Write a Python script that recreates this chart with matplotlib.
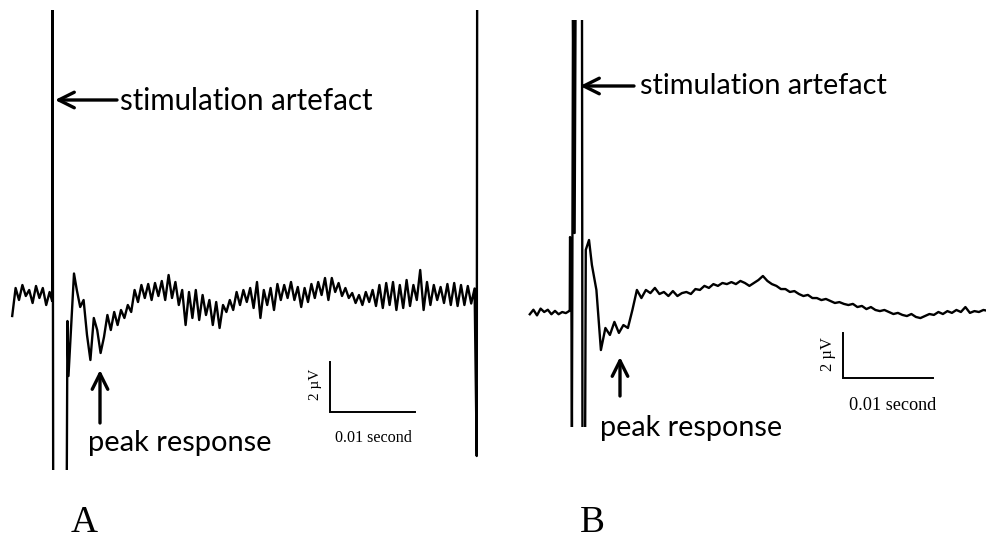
import numpy as np
import matplotlib
matplotlib.use("Agg")
import matplotlib.pyplot as plt

# ---------------- data (time in ms, amplitude in µV) ----------------
# Panel A : noisy recording
A_PRE_T0, A_PRE_DT = -4.8, 0.4
A_PRE = [-0.8, 0.32, -0.16, 0.44, 0.0, 0.24, -0.28, 0.4, -0.08, 0.32, -0.36, 0.16]
A_ART_T = [-0.1, -0.05, 0.02, 1.62, 1.70, 1.82, 2.47]
A_ART_V = [-0.2, 11.8, -7.3, -7.3, -1.0, -3.2, 0.9]
A_POST_T0, A_POST_DT = 2.8, 0.4
A_POST = [0.24, -0.44, -0.16, -1.56, -2.56, -0.88, -1.36, -2.28, -1.64, -0.76,
          -1.36, -0.64, -1.16, -0.56, -0.88, -0.36, -0.64, 0.24, -0.24, 0.44,
          -0.08, 0.48, -0.16, 0.52, 0.0, 0.6, -0.16, 0.84, -0.08, 0.56,
          -0.36, 0.24, -1.16, 0.16, -0.88, 0.24, -0.96, 0.04, -0.76, -0.16,
          -1.16, -0.24, -1.28, -0.36, -0.64, -0.16, -0.56, 0.16, -0.36, 0.24,
          -0.24, 0.32, -0.48, 0.56, -0.88, 0.24, -0.36, 0.32, -0.56, 0.48,
          -0.16, 0.44, -0.08, 0.56, -0.16, 0.36, -0.44, 0.32, -0.24, 0.48,
          -0.08, 0.56, 0.04, 0.72, -0.16, 0.72, 0.16, 0.52, 0.0, 0.32,
          -0.08, 0.12, -0.28, 0.04, -0.36, 0.16, -0.24, 0.24, -0.4, 0.44,
          -0.48, 0.52, -0.36, 0.56, -0.56, 0.44, -0.48, 0.64, -0.4, 0.44,
          -0.16, 1.04, -0.56, 0.56, -0.36, 0.44, -0.16, 0.36, -0.28, 0.48,
          -0.36, 0.52, -0.4, 0.44, -0.36, 0.4, -0.3, 0.3]
A_END_T = [49.85, 49.9]
A_END_V = [-6.4, 11.8]

# Panel B : smoother recording
B_PRE_T0, B_PRE_DT = -4.8, 0.4
B_PRE = [-0.1, 0.1, -0.15, 0.15, 0.0, 0.1, -0.1, 0.05, -0.1, 0.0, -0.05, 0.05]
B_ART_T = [-0.36, -0.33, -0.2, -0.12, 0.0, 0.18, 0.28, 1.0, 1.05, 1.35, 1.42, 1.78]
B_ART_V = [0.1, 3.33, 3.0, -5.4, 13.2, 3.51, 13.2, 13.2, -5.4, -5.4, 2.76, 3.2]
B_POST_T0, B_POST_DT = 2.1, 0.5
B_POST = [2.09, 0.98, -1.69, -0.71, -1.02, -0.44, -0.93, -0.58, -0.71, 0.09,
          0.98, 0.62, 0.98, 0.84, 1.07, 0.80, 0.89, 0.71, 0.93, 0.71,
          0.84, 0.89, 0.80, 1.02, 0.98, 1.16, 1.07, 1.24, 1.16, 1.29,
          1.24, 1.33, 1.24, 1.38, 1.29, 1.16, 1.29, 1.42, 1.60, 1.38,
          1.24, 1.16, 1.02, 1.02, 0.89, 0.93, 0.80, 0.71, 0.76, 0.62,
          0.62, 0.53, 0.58, 0.49, 0.40, 0.44, 0.36, 0.31, 0.36, 0.22,
          0.27, 0.13, 0.22, 0.09, 0.04, 0.09, 0.00, -0.09, -0.04, -0.13,
          -0.18, -0.09, -0.22, -0.27, -0.18, -0.09, -0.13, 0.00, -0.09, 0.04,
          -0.04, 0.09, 0.00, 0.22, -0.04, 0.04, 0.00, 0.09, 0.05]

SCALE_UV = 2        # µV
SCALE_MS = 10       # ms  (0.01 second)
PANEL_LABELS = ["A", "B"]
ANNOT_STIM = "stimulation artefact"
ANNOT_PEAK = "peak response"
SCALE_V_TXT = "2 µV"
SCALE_T_TXT = "0.01 second"

# ---------------- figure ----------------
W, H, DPI = 986, 546, 100
fig = plt.figure(figsize=(W / DPI, H / DPI), dpi=DPI)
fig.patch.set_facecolor("white")


def panel_axes(x0, x1, y0, y1, t_at_x, px_per_ms, v0_y, px_per_uv):
    ax = fig.add_axes([x0 / W, 1 - y1 / H, (x1 - x0) / W, (y1 - y0) / H])
    ax.set_xlim((x0 - t_at_x) / px_per_ms, (x1 - t_at_x) / px_per_ms)
    ax.set_ylim((v0_y - y1) / px_per_uv, (v0_y - y0) / px_per_uv)
    ax.axis("off")
    ax.patch.set_alpha(0)
    return ax


def build(pre_t0, pre_dt, pre, art_t, art_v, post_t0, post_dt, post, end_t=(), end_v=()):
    t = list(pre_t0 + pre_dt * np.arange(len(pre))) + list(art_t) + \
        list(post_t0 + post_dt * np.arange(len(post))) + list(end_t)
    v = list(pre) + list(art_v) + list(post) + list(end_v)
    return np.array(t), np.array(v)


LW = 1.7
# Panel A: x: t=0 at 53 px, 8.5 px/ms ; y: 0 µV at 296 px, 25 px/µV
axA = panel_axes(8, 482, 10, 470, 53, 8.5, 296, 25)
tA, vA = build(A_PRE_T0, A_PRE_DT, A_PRE, A_ART_T, A_ART_V,
               A_POST_T0, A_POST_DT, A_POST, A_END_T, A_END_V)
axA.plot(tA, vA, color="black", lw=LW, solid_joinstyle="round")
sbA_t, sbA_v = 32.6, -4.64
axA.plot([sbA_t, sbA_t, sbA_t + SCALE_MS], [sbA_v + SCALE_UV, sbA_v, sbA_v],
         color="black", lw=1.4, solid_joinstyle="miter")

# Panel B: x: t=0 at 573 px, 9 px/ms ; y: 0 µV at 312 px, 22.5 px/µV
axB = panel_axes(526, 986, 20, 427, 573, 9.0, 312, 22.5)
tB, vB = build(B_PRE_T0, B_PRE_DT, B_PRE, B_ART_T, B_ART_V,
               B_POST_T0, B_POST_DT, B_POST)
axB.plot(tB, vB, color="black", lw=LW, solid_joinstyle="round")
sbB_t, sbB_v = 30.0, -2.93
axB.plot([sbB_t, sbB_t, sbB_t + SCALE_MS], [sbB_v + SCALE_UV, sbB_v, sbB_v],
         color="black", lw=1.4, solid_joinstyle="miter")

# overlay axes in pixel coordinates for annotations
ov = fig.add_axes([0, 0, 1, 1])
ov.set_xlim(0, W)
ov.set_ylim(H, 0)
ov.axis("off")
ov.patch.set_alpha(0)

renderer = fig.canvas.get_renderer()


def fit_text(x, y, s, width, size0=20, **kw):
    t = ov.text(x, y, s, fontsize=size0, **kw)
    bb = t.get_window_extent(renderer=renderer)
    t.set_fontsize(size0 * width / bb.width)
    return t


SANS = "Lato"
SERIF = "Liberation Serif"

fit_text(120, 101, ANNOT_STIM, 253, family=SANS, ha="left", va="center")
fit_text(640, 86, ANNOT_STIM, 248, family=SANS, ha="left", va="center")
fit_text(88, 443, ANNOT_PEAK, 184, family=SANS, ha="left", va="center")
fit_text(600, 428, ANNOT_PEAK, 182, family=SANS, ha="left", va="center")

arrow = dict(arrowstyle="->", lw=2.4, color="black", mutation_scale=28,
             shrinkA=0, shrinkB=0)
ov.annotate("", xy=(55, 100), xytext=(117, 100), arrowprops=arrow)
ov.annotate("", xy=(580, 86), xytext=(634, 86), arrowprops=arrow)
ov.annotate("", xy=(100, 370), xytext=(100, 423), arrowprops=arrow)
ov.annotate("", xy=(620, 357), xytext=(620, 396), arrowprops=arrow)

fit_text(373, 438, SCALE_T_TXT, 77, family=SERIF, ha="center", va="center")
fit_text(893, 406, SCALE_T_TXT, 87, family=SERIF, ha="center", va="center")
ov.text(315, 384, SCALE_V_TXT, family=SERIF, fontsize=11, rotation=90,
        ha="center", va="center")
ov.text(828, 354, SCALE_V_TXT, family=SERIF, fontsize=12, rotation=90,
        ha="center", va="center")

ov.text(84, 523, PANEL_LABELS[0], family=SERIF, fontsize=27, ha="center", va="center")
ov.text(592, 523, PANEL_LABELS[1], family=SERIF, fontsize=27, ha="center", va="center")

fig.savefig("out.png", dpi=DPI, facecolor="white")
